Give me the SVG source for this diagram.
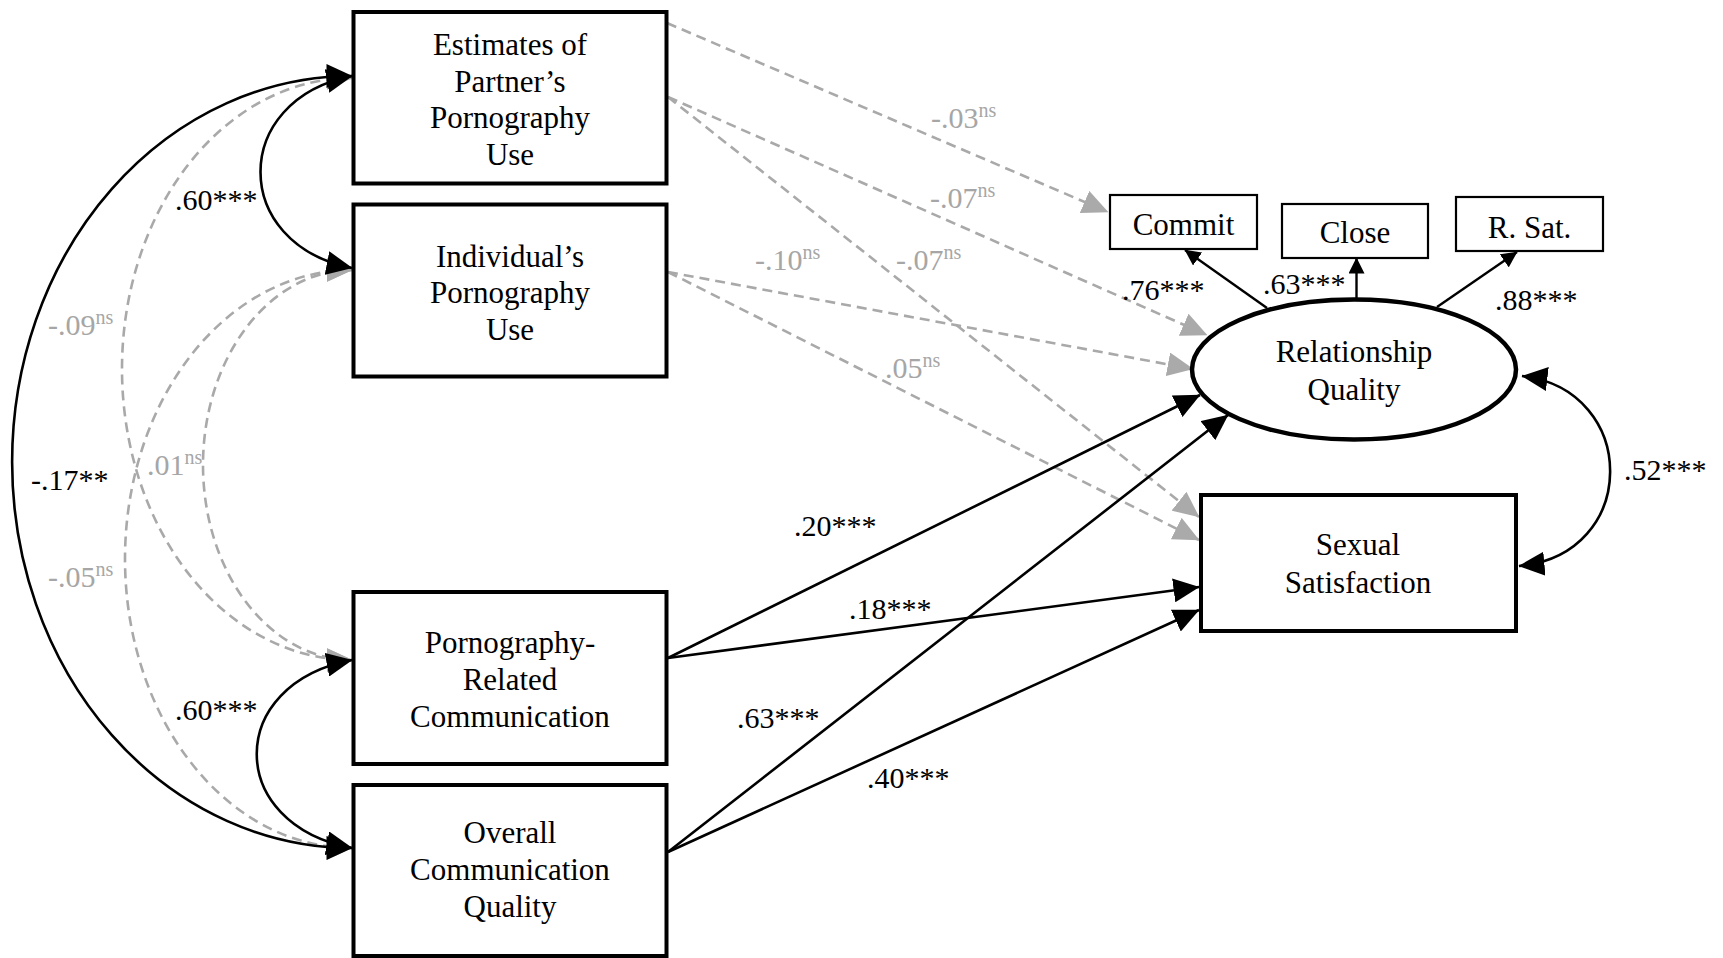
<svg xmlns="http://www.w3.org/2000/svg" width="1723" height="958" viewBox="0 0 1723 958">
<style>
.box{fill:#fff;stroke:#000;stroke-width:4}
.ibox{fill:#fff;stroke:#000;stroke-width:2.2}
.nt{font-family:"Liberation Serif","Times New Roman",serif;font-size:31px;fill:#000;text-anchor:middle}
.lb{font-family:"Liberation Serif","Times New Roman",serif;font-size:30px;fill:#000}
.lg{font-family:"Liberation Serif","Times New Roman",serif;font-size:30px;fill:#a6a6a6}
.sup{font-size:20px}
.solid{fill:none;stroke:#000;stroke-width:2.6}
.thin{fill:none;stroke:#000;stroke-width:2.4}
.dash{fill:none;stroke:#a9a9a9;stroke-width:2.6;stroke-dasharray:10 6}
</style>
<defs>
<marker id="ab" markerUnits="userSpaceOnUse" viewBox="0 0 26 24" markerWidth="26" markerHeight="24" refX="25.5" refY="12" orient="auto-start-reverse"><path d="M0,0 L26,12 L0,24 z" fill="#000"/></marker>
<marker id="ag" markerUnits="userSpaceOnUse" viewBox="0 0 26 24" markerWidth="26" markerHeight="24" refX="25.5" refY="12" orient="auto-start-reverse"><path d="M0,0 L26,12 L0,24 z" fill="#aaaaaa"/></marker>
<marker id="as" markerUnits="userSpaceOnUse" viewBox="0 0 16 16" markerWidth="16" markerHeight="16" refX="15.5" refY="8" orient="auto"><path d="M0,0 L16,8 L0,16 z" fill="#000"/></marker>
</defs>
<rect width="1723" height="958" fill="#fff"/>

<g id="connectors">
  <!-- gray dashed covariances (left) -->
  <path class="dash" d="M352 78 A230 291 0 0 0 352 660" marker-start="url(#ag)" marker-end="url(#ag)"/>
  <path class="dash" d="M352 270 A227 289 0 0 0 352 848" marker-start="url(#ag)" marker-end="url(#ag)"/>
  <path class="dash" d="M352 270 A149 195 0 0 0 352 660" marker-start="url(#ag)" marker-end="url(#ag)"/>
  <!-- gray dashed paths (right) -->
  <path class="dash" d="M667 23 L1108 212" marker-end="url(#ag)"/>
  <path class="dash" d="M668 97 L1207 335" marker-end="url(#ag)"/>
  <path class="dash" d="M668 97 L1199 517" marker-end="url(#ag)"/>
  <path class="dash" d="M668 272 L1193 369" marker-end="url(#ag)"/>
  <path class="dash" d="M668 272 L1199 540" marker-end="url(#ag)"/>
  <!-- black covariances (left) -->
  <path class="solid" d="M352 76 A340 386 0 0 0 352 848" marker-start="url(#ab)" marker-end="url(#ab)"/>
  <path class="solid" d="M352 76 C230 100 230 244 352 268" marker-start="url(#ab)" marker-end="url(#ab)"/>
  <path class="solid" d="M352 660 C225 684 225 824 352 848" marker-start="url(#ab)" marker-end="url(#ab)"/>
  <!-- black paths (right) -->
  <path class="solid" d="M668 658 L1200 395" marker-end="url(#ab)"/>
  <path class="solid" d="M668 658 L1199 587" marker-end="url(#ab)"/>
  <path class="solid" d="M668 852 L1228 415" marker-end="url(#ab)"/>
  <path class="solid" d="M668 852 L1199 610" marker-end="url(#ab)"/>
  <path class="solid" d="M1522 376 C1640 390 1640 555 1519 566" marker-start="url(#ab)" marker-end="url(#ab)"/>
  <!-- loadings -->
  <path class="thin" d="M1267 308 L1185 250" marker-end="url(#as)"/>
  <path class="thin" d="M1356.5 300 L1356.5 258" marker-end="url(#as)"/>
  <path class="thin" d="M1437 307 L1517 252" marker-end="url(#as)"/>

  <!-- labels -->
  <text class="lb" x="175" y="210">.60***</text>
  <text class="lb" x="175" y="720">.60***</text>
  <text class="lb" x="31" y="490">-.17**</text>
  <text class="lg" x="48" y="335">-.09<tspan class="sup" dy="-11">ns</tspan></text>
  <text class="lg" x="147" y="475">.01<tspan class="sup" dy="-11">ns</tspan></text>
  <text class="lg" x="48" y="587">-.05<tspan class="sup" dy="-11">ns</tspan></text>
  <text class="lg" x="931" y="128">-.03<tspan class="sup" dy="-11">ns</tspan></text>
  <text class="lg" x="930" y="208">-.07<tspan class="sup" dy="-11">ns</tspan></text>
  <text class="lg" x="755" y="270">-.10<tspan class="sup" dy="-11">ns</tspan></text>
  <text class="lg" x="896" y="270">-.07<tspan class="sup" dy="-11">ns</tspan></text>
  <text class="lg" x="885" y="378">.05<tspan class="sup" dy="-11">ns</tspan></text>
  <text class="lb" x="1122" y="300">.76***</text>
  <text class="lb" x="1263" y="294">.63***</text>
  <text class="lb" x="1495" y="310">.88***</text>
  <text class="lb" x="1624" y="480">.52***</text>
  <text class="lb" x="794" y="536">.20***</text>
  <text class="lb" x="849" y="619">.18***</text>
  <text class="lb" x="737" y="728">.63***</text>
  <text class="lb" x="867" y="788">.40***</text>
</g>

<g id="node-estimates">
  <rect class="box" x="353.5" y="12" width="313" height="171.5"/>
  <text class="nt" x="510" y="55">Estimates of</text>
  <text class="nt" x="510" y="91.7">Partner’s</text>
  <text class="nt" x="510" y="128.3">Pornography</text>
  <text class="nt" x="510" y="165">Use</text>
</g>
<g id="node-individual">
  <rect class="box" x="353.5" y="204.5" width="313" height="172"/>
  <text class="nt" x="510" y="266.7">Individual’s</text>
  <text class="nt" x="510" y="303.3">Pornography</text>
  <text class="nt" x="510" y="340">Use</text>
</g>
<g id="node-porn-comm">
  <rect class="box" x="353.5" y="592" width="313" height="172"/>
  <text class="nt" x="510" y="653.3">Pornography-</text>
  <text class="nt" x="510" y="690">Related</text>
  <text class="nt" x="510" y="726.7">Communication</text>
</g>
<g id="node-overall-comm">
  <rect class="box" x="353.5" y="785" width="313" height="171"/>
  <text class="nt" x="510" y="843.3">Overall</text>
  <text class="nt" x="510" y="880">Communication</text>
  <text class="nt" x="510" y="916.7">Quality</text>
</g>
<g id="node-commit">
  <rect class="ibox" x="1110" y="195" width="147" height="54"/>
  <text class="nt" x="1183.5" y="235">Commit</text>
</g>
<g id="node-close">
  <rect class="ibox" x="1282" y="204" width="146" height="54"/>
  <text class="nt" x="1355" y="243.3">Close</text>
</g>
<g id="node-rsat">
  <rect class="ibox" x="1456" y="197" width="147" height="54"/>
  <text class="nt" x="1529.5" y="238.3">R. Sat.</text>
</g>
<g id="node-relationship-quality">
  <ellipse cx="1354" cy="369.5" rx="162" ry="70" fill="#fff" stroke="#000" stroke-width="4.5"/>
  <text class="nt" x="1354" y="361.7">Relationship</text>
  <text class="nt" x="1354" y="400">Quality</text>
</g>
<g id="node-sexual-satisfaction">
  <rect class="box" x="1201" y="495" width="315" height="136"/>
  <text class="nt" x="1358" y="555">Sexual</text>
  <text class="nt" x="1358" y="593.3">Satisfaction</text>
</g>
</svg>
